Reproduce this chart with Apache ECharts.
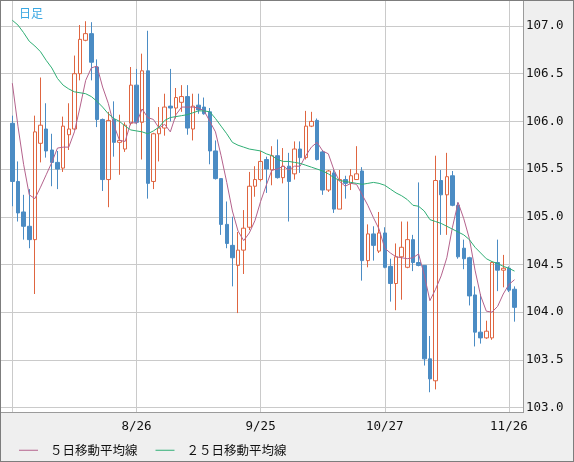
<!DOCTYPE html>
<html><head><meta charset="utf-8">
<script src="https://cdn.jsdelivr.net/npm/echarts@6/dist/echarts.min.js"></script>
<style>
html,body{margin:0;padding:0;background:#fff;}
#wrap{position:relative;width:574px;height:462px;box-sizing:border-box;border:1px solid #7d7d7d;background:#efefef;overflow:hidden;}
#plot{position:absolute;left:0;top:0;width:522px;height:411px;background:#fff;border-right:1px solid #9b9b9b;border-bottom:1px solid #9b9b9b;}
#chart{position:absolute;left:-1px;top:-1px;width:574px;height:462px;}
</style></head>
<body><div id="wrap"><div id="plot"></div><div id="chart"></div></div>
<script>
const dates = [
'7/27','7/28','7/29','7/30','7/31',
'8/3','8/4','8/5','8/6','8/7',
'8/10','8/11','8/12','8/13','8/14',
'8/17','8/18','8/19','8/20','8/21',
'8/24','8/25','8/26','8/27','8/28',
'8/31','9/1','9/2','9/3','9/4',
'9/7','9/8','9/9','9/10','9/11',
'9/14','9/15','9/16','9/17','9/18',
'9/21','9/22','9/23','9/24','9/25',
'9/28','9/29','9/30','10/1','10/2',
'10/5','10/6','10/7','10/8','10/9',
'10/12','10/13','10/14','10/15','10/16',
'10/19','10/20','10/21','10/22','10/23',
'10/26','10/27','10/28','10/29','10/30',
'11/2','11/3','11/4','11/5','11/6',
'11/9','11/10','11/11','11/12','11/13',
'11/16','11/17','11/18','11/19','11/20',
'11/23','11/24','11/25','11/26','11/27'];

const openP = [
105.98,105.37,105.05,104.90,104.76, 105.77,105.92,105.70,105.57,105.51,
105.86,105.92,106.50,106.85,106.92, 106.57,106.02,105.39,106.02,105.78,
105.71,105.98,106.38,105.99,106.53, 105.37,105.87,105.93,106.16,106.14,
106.20,106.26,105.92,106.17,106.15, 106.10,105.69,105.40,104.92,104.70,
104.49,104.65,104.89,105.32,105.39, 105.60,105.49,105.64,105.41,105.53,
105.45,105.71,105.62,105.95,106.01, 105.68,105.28,105.46,105.08,105.39,
105.35,105.39,105.48,104.54,104.82, 104.64,104.83,104.48,104.30,104.58,
104.47,104.76,104.52,104.49,103.51, 103.28,105.38,105.23,105.43,105.12,
104.67,104.57,104.18,103.79,103.73, 103.73,104.52,104.44,104.46,104.24];
const closeP = [
105.37,105.04,104.90,104.76,105.89, 105.96,105.69,105.57,105.50,105.95,
105.92,106.50,106.86,106.92,106.62, 106.02,105.39,106.01,105.78,105.80,
105.96,106.38,105.99,106.53,105.35, 105.87,105.93,106.15,106.14,106.25,
106.26,105.93,106.16,106.12,106.08, 105.69,105.40,104.92,104.72,104.57,
104.65,104.88,105.32,105.39,105.58, 105.50,105.64,105.41,105.53,105.37,
105.71,105.62,105.95,106.00,105.60, 105.28,105.48,105.08,105.39,105.35,
105.43,105.45,104.54,104.82,104.70, 104.83,104.47,104.30,104.58,104.68,
104.76,104.52,104.49,103.51,103.30, 105.38,105.23,105.42,105.12,104.58,
104.56,104.17,103.79,103.73,103.80, 104.52,104.44,104.46,104.23,104.05];
const lowP = [
105.11,104.95,104.76,104.67,104.19, 105.57,105.62,105.32,105.29,105.47,
105.70,105.91,106.43,106.84,106.43, 105.94,105.27,105.10,105.63,105.44,
105.68,105.96,105.97,105.60,105.19, 105.29,105.58,105.85,106.00,106.03,
106.10,105.86,105.80,106.08,106.07, 105.55,105.39,104.81,104.67,104.27,
103.99,104.40,104.86,105.21,105.37, 105.25,105.33,105.40,105.35,104.95,
105.39,105.46,105.60,105.94,105.59, 105.23,105.26,105.04,105.08,105.19,
105.28,105.39,104.33,104.47,104.54, 104.62,104.46,104.11,104.02,104.13,
104.46,104.43,104.48,103.44,103.16, 103.19,104.81,104.81,105.11,104.56,
104.45,104.07,103.64,103.67,103.72, 103.71,104.22,104.26,104.21,103.90];
const highP = [
106.06,105.58,105.23,105.29,106.06, 106.46,106.19,105.87,105.69,106.05,
106.19,106.69,107.01,107.05,107.04, 106.65,106.03,106.10,106.21,106.07,
105.99,106.57,106.55,106.71,106.95, 105.88,106.15,106.29,106.55,106.35,
106.38,106.38,106.29,106.29,106.25, 106.14,105.80,105.40,105.16,105.00,
104.84,105.07,105.47,105.53,105.69, 105.63,105.74,105.81,105.72,105.67,
105.79,105.79,106.11,106.10,106.03, 105.70,105.49,105.49,105.49,105.43,
105.50,105.74,105.52,104.92,104.90, 105.05,104.89,104.56,104.72,104.95,
104.95,104.81,105.36,104.49,103.75, 105.64,105.49,105.67,105.48,105.15,
104.76,104.58,104.27,104.19,103.91, 104.53,104.76,104.60,104.48,104.27];

const ma5 = [
106.40,105.95,105.55,105.23,105.19, 105.31,105.44,105.57,105.72,105.73,
105.73,105.89,106.15,106.43,106.56, 106.58,106.36,106.19,105.96,105.80,
105.79,105.99,105.98,106.13,106.04, 106.02,105.93,105.97,105.89,106.07,
106.15,106.15,106.15,106.14,106.11, 106.00,105.89,105.64,105.36,105.06,
104.85,104.75,104.83,104.96,105.16, 105.33,105.49,105.50,105.53,105.49,
105.53,105.53,105.64,105.73,105.78, 105.69,105.66,105.49,105.37,105.32,
105.35,105.34,105.23,105.12,104.99, 104.87,104.67,104.62,104.58,104.57,
104.56,104.57,104.61,104.39,104.12, 104.24,104.38,104.57,104.89,105.15,
104.98,104.77,104.44,104.17,104.01, 104.00,104.06,104.19,104.29,104.34];
const ma25 = [
107.06,107.01,106.93,106.84,106.79, 106.73,106.64,106.56,106.45,106.38,
106.34,106.31,106.30,106.29,106.26, 106.21,106.15,106.08,106.03,106.00,
105.95,105.91,105.90,105.89,105.87, 105.90,105.94,106.01,106.04,106.05,
106.06,106.07,106.09,106.11,106.11, 106.10,106.03,105.95,105.87,105.78,
105.75,105.73,105.71,105.70,105.69, 105.66,105.64,105.60,105.58,105.58,
105.57,105.56,105.54,105.52,105.50, 105.48,105.45,105.41,105.38,105.37,
105.36,105.35,105.34,105.35,105.36, 105.35,105.33,105.29,105.25,105.22,
105.18,105.12,105.11,105.06,104.97, 104.95,104.93,104.90,104.87,104.84,
104.81,104.76,104.68,104.62,104.56, 104.53,104.51,104.48,104.46,104.43];

const labelDates = ['8/26','9/25','10/27','11/26'];
const gridDates = ['7/27','8/26','9/25','10/27','11/26'];
const yMin = 103.0, yMax = 107.0, yStep = 0.5;
const seriesNames = ['５日移動平均線','２５日移動平均線'];
const title = '日足';

const UP = '#df6540', DOWN = '#4b8cc4', C_MA5 = '#b4628c', C_MA25 = '#2fae74', GRID = '#cacaca';
const MONO = '"DejaVu Sans Mono", "Liberation Mono", monospace';
const JP = '"Noto Sans CJK JP", sans-serif';

const cats = dates.concat(['']);
const candle = dates.map((d, i) => [openP[i], closeP[i], lowP[i], highP[i]]);
// scale: 107.0 at y=26, 103.0 at y=407.5 ; plot spans y=1..412
const pxPer = (407.5 - 26) / (yMax - yMin);
const extTop = yMax + (26 - 1) / pxPer;
const extBottom = yMin - (412 - 407.5) / pxPer;

const chart = echarts.init(document.getElementById('chart'), null, {renderer: 'canvas'});
chart.setOption({
  animation: false,
  backgroundColor: 'transparent',
  title: {text: title, left: 14, top: 2, textStyle: {fontSize: 12, fontWeight: 'normal', color: '#3aa7e2', fontFamily: JP}},
  legend: {
    data: seriesNames, left: 14, top: 439, icon: 'rect', itemWidth: 19, itemHeight: 1, itemGap: 18,
    textStyle: {fontSize: 12.5, color: '#111', fontFamily: JP, padding: [0, 0, 0, 7]}
  },
  grid: [
    {left: 1, right: 51, top: 26, bottom: 462 - 407.5, show: false},
    {left: 9.5, right: 51, top: 1, bottom: 50, show: false}
  ],
  xAxis: [
    {gridIndex: 0, type: 'value', min: 0, max: 1, show: false},
    {gridIndex: 1, type: 'category', data: cats, boundaryGap: true,
     axisLine: {show: false}, axisTick: {show: false},
     axisLabel: {interval: (i, v) => labelDates.indexOf(v) >= 0, margin: 8, color: '#111', fontFamily: MONO, fontSize: 12.5},
     splitLine: {show: true, alignWithLabel: true, interval: (i, v) => gridDates.indexOf(v) >= 0, lineStyle: {color: GRID, width: 1}}}
  ],
  yAxis: [
    {gridIndex: 0, type: 'value', position: 'right', min: yMin, max: yMax, interval: yStep,
     axisLine: {show: false}, axisTick: {show: false},
     axisLabel: {margin: 3, color: '#111', fontFamily: MONO, fontSize: 12.5, formatter: v => v.toFixed(1)},
     splitLine: {show: true, lineStyle: {color: GRID, width: 1}}},
    {gridIndex: 1, type: 'value', min: extBottom, max: extTop, show: false, splitLine: {show: false}}
  ],
  series: [
    {type: 'candlestick', xAxisIndex: 1, yAxisIndex: 1, data: candle, barWidth: 4,
     itemStyle: {color: 'transparent', color0: DOWN, borderColor: UP, borderColor0: DOWN, borderWidth: 1}},
    {name: seriesNames[0], type: 'line', xAxisIndex: 1, yAxisIndex: 1, data: ma5, symbol: 'none',
     lineStyle: {color: C_MA5, width: 1}, itemStyle: {color: C_MA5}},
    {name: seriesNames[1], type: 'line', xAxisIndex: 1, yAxisIndex: 1, data: ma25, symbol: 'none',
     lineStyle: {color: C_MA25, width: 1}, itemStyle: {color: C_MA25}}
  ]
});
</script>
</body></html>
